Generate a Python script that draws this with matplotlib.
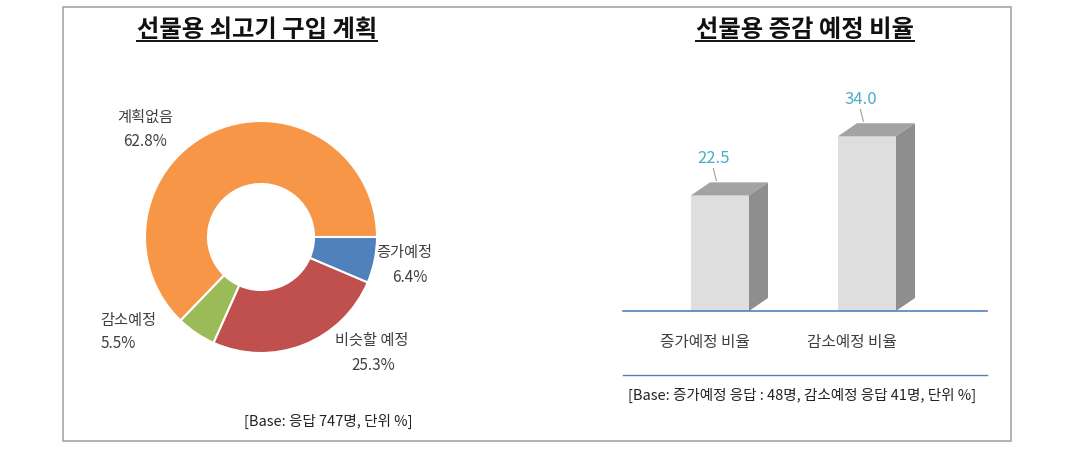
import matplotlib
matplotlib.use("Agg")
import matplotlib.pyplot as plt
from matplotlib.patches import Polygon, Rectangle

plt.rcParams['font.family'] = ['Noto Sans CJK KR', 'DejaVu Sans']

# ---- data ----
pie_labels = ['계획없음', '감소예정', '비슷할 예정', '증가예정']
pie_values = [62.8, 5.5, 25.3, 6.4]
pie_colors = ['#F79646', '#9BBB59', '#C0504D', '#4F81BD']

bar_categories = ['증가예정 비율', '감소예정 비율']
bar_values = [22.5, 34.0]

title_left = '선물용 쇠고기 구입 계획'
title_right = '선물용 증감 예정 비율'
note_left = '[Base: 응답 747명, 단위 %]'
note_right = '[Base: 증가예정 응답 : 48명, 감소예정 응답 41명, 단위 %]'

W, H = 1080, 463
fig = plt.figure(figsize=(W / 100, H / 100), dpi=100)
fig.patch.set_facecolor('white')

# overlay axes in pixel coordinates
ov = fig.add_axes([0, 0, 1, 1])
ov.set_xlim(0, W)
ov.set_ylim(H, 0)
ov.axis('off')

ov.add_patch(Rectangle((63, 7), 948, 434, fill=False, edgecolor='#A6A6A6', lw=1.2))

txt_color = '#404040'

# titles
t1 = ov.text(257, 30, title_left, ha='center', va='center', fontsize=17.5,
             fontweight='bold', color='#111111')
t2 = ov.text(805, 30, title_right, ha='center', va='center', fontsize=17.5,
             fontweight='bold', color='#111111')

# ---- donut ----
cx, cy, R = 261, 237, 116
pax = fig.add_axes([(cx - R) / W, (H - cy - R) / H, 2 * R / W, 2 * R / H])
pax.pie(pie_values, colors=pie_colors, startangle=0, counterclock=True,
        radius=1.0, wedgeprops=dict(width=1 - 53 / 116, edgecolor='white', linewidth=1.5))
pax.set_xlim(-1, 1)
pax.set_ylim(-1, 1)
pax.set_aspect('equal')
pax.axis('off')

label_pos = {
    '계획없음': (145, 117, 145, 142),
    '감소예정': (128, 320, 118, 344),
    '비슷할 예정': (372, 340, 373, 366),
    '증가예정': (404, 253, 410, 278),
}
for lab, val in zip(pie_labels, pie_values):
    x1, y1, x2, y2 = label_pos[lab]
    ov.text(x1, y1, lab, ha='center', va='center', fontsize=11, color=txt_color)
    ov.text(x2, y2, f'{val:.1f}%', ha='center', va='center', fontsize=11, color=txt_color)

ov.text(328, 421, note_left, ha='center', va='center', fontsize=10.5, color='#222222')

# ---- 3D bars ----
px_per_unit = 5.14
x0px = 720
px_per_x = 147
left_px, right_px = 623, 987
base_px = 311
ymax = 40
bax = fig.add_axes([left_px / W, (H - base_px) / H, (right_px - left_px) / W,
                    ymax * px_per_unit / H])
bax.set_xlim((left_px - x0px) / px_per_x, (right_px - x0px) / px_per_x)
bax.set_ylim(0, ymax)
bax.axis('off')

bw = 58 / px_per_x
dx = 19 / px_per_x
dy = 13 / px_per_unit
xs = list(range(len(bar_values)))
bars = bax.bar(xs, bar_values, width=bw, color='#DEDEDE', edgecolor='none', zorder=3)
for b in bars:
    x_l = b.get_x()
    x_r = x_l + b.get_width()
    h = b.get_height()
    bax.add_patch(Polygon([(x_l, h), (x_r, h), (x_r + dx, h + dy), (x_l + dx, h + dy)],
                          closed=True, facecolor='#A3A3A3', edgecolor='none', zorder=3))
    bax.add_patch(Polygon([(x_r, 0), (x_r + dx, dy), (x_r + dx, h + dy), (x_r, h)],
                          closed=True, facecolor='#8E8E8E', edgecolor='none', zorder=3))
    # value label with leader
    xc = b.get_x() + b.get_width() / 2
    bax.text(xc - 0.045, h + 7.2, f'{h:.1f}', ha='center', va='center', fontsize=12,
             color='#4BACC6', clip_on=False)
    bax.plot([xc - 0.045, xc - 0.025], [h + 5.2, h + 2.9], color='#A0A0A0', lw=0.8,
             clip_on=False, zorder=4)

bax.axhline(0, color='#4F81BD', lw=1.2, zorder=5, clip_on=False)

for x, cat in zip(xs, bar_categories):
    bax.text(x - 0.10, -6.2, cat, ha='center', va='center', fontsize=11.3, color=txt_color,
             clip_on=False)

ov.plot([623, 987], [375, 375], color='#5B7FB5', lw=1.0)
ov.text(802, 395, note_right, ha='center', va='center', fontsize=10.5, color='#222222')

# underline titles
fig.canvas.draw()
r = fig.canvas.get_renderer()
inv = ov.transData.inverted()
for t in (t1, t2):
    bb = t.get_window_extent(renderer=r)
    (xa, ya), (xb, yb) = inv.transform([(bb.x0, bb.y0), (bb.x1, bb.y1)])
    ov.plot([xa, xb], [ya - 1, ya - 1], color='#111111', lw=1.4)

fig.savefig('out.png', dpi=100, facecolor='white')
